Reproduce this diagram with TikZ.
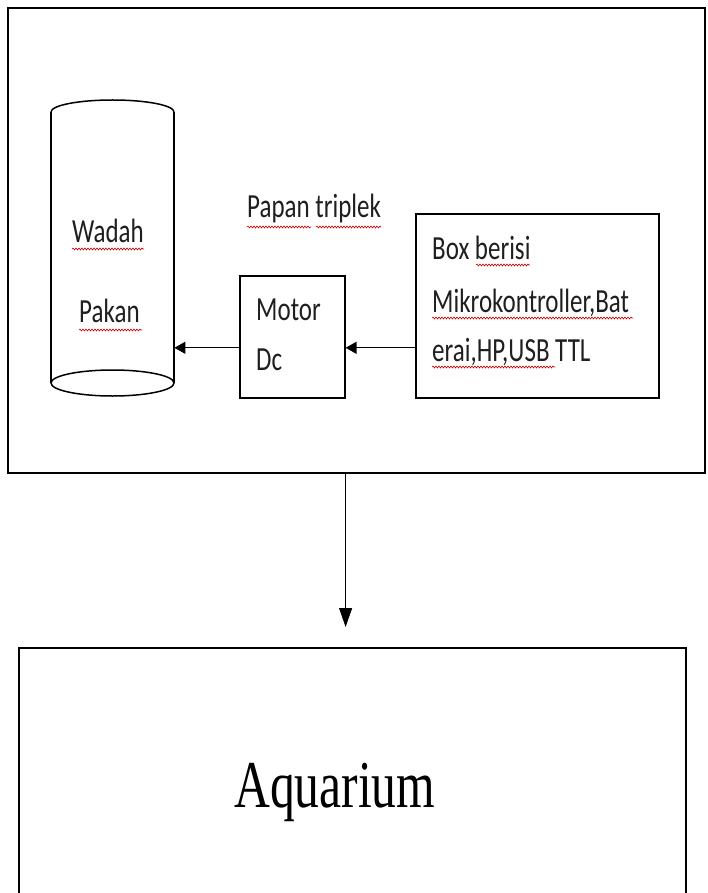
\documentclass[tikz,border=0pt]{standalone}
\usepackage{fontspec}
\usepackage{graphicx}
\newfontfamily\calfont{Carlito}
\newfontfamily\tmsfont{Liberation Serif}
\usetikzlibrary{arrows.meta,decorations.pathmorphing}
\newcommand\sx[1]{\scalebox{1}[1.35]{#1}}
\begin{document}
\begin{tikzpicture}[x=1pt,y=-1pt,
  box/.style={draw=black, line width=1.6pt, inner sep=0pt},
  lbl/.style={inner sep=0pt, font=\calfont\fontsize{25}{25}\selectfont, text=black!88},
  arr/.style={line width=1.3pt, -{Triangle[length=11pt,width=12pt]}},
  squig/.style={draw=red!80!black, line width=0.6pt, decorate, decoration={snake, amplitude=1pt, segment length=3pt}}]
\useasboundingbox (0,0) rectangle (707,893);
\clip (0,0) rectangle (707,893);
\fill[white] (0,0) rectangle (707,893);

% board
\node[box, anchor=north west, minimum width=697pt, minimum height=465pt] (board) at (7,7) {};

% cylinder (Wadah Pakan)
\node[inner sep=0pt, anchor=north west, minimum width=123pt, minimum height=296pt] (wadah) at (51,100) {};
\draw[line width=1.5pt] (51,112) arc[start angle=180, end angle=0, x radius=61.5pt, y radius=12pt];
\draw[line width=1.5pt] (51,112) -- (51,383) (174,112) -- (174,383);
\draw[line width=1.5pt] (112.5,383) ellipse [x radius=61.5pt, y radius=13pt];

% boxes
\node[box, anchor=north west, minimum width=105pt, minimum height=122pt] (motor) at (239,275) {};
\node[box, anchor=north west, minimum width=243pt, minimum height=184pt] (ctrl) at (415,213) {};
\node[box, anchor=north west, minimum width=667pt, minimum height=280pt] (aq) at (18,647) {};

% texts
\node[lbl, anchor=base west] (twadah) at (72,243) {\sx{Wadah}};
\node[lbl, anchor=base west] (tpakan) at (79,322) {\sx{Pakan}};
\node[lbl, anchor=base west] (tpapan) at (247,218) {\sx{Papan triplek}};
\node[lbl, anchor=base west] (tmotor) at (256,320) {\sx{Motor}};
\node[lbl, anchor=base west] (tdc) at (256,370) {\sx{Dc}};
\node[lbl, anchor=base west] (tbox1) at (432,259) {\sx{Box berisi}};
\node[lbl, anchor=base west] (tbox2) at (432,312) {\sx{Mikrokontroller,Bat}};
\node[lbl, anchor=base west] (tbox3) at (432,361) {\sx{erai,HP,USB TTL}};
\node[inner sep=0pt, anchor=base west, font=\tmsfont\fontsize{49.6}{50}\selectfont] (taq) at (234,807) {\sx{Aquarium}};

% spell-check underlines
\draw[squig] (72,249) -- (144,249);
\draw[squig] (79,330) -- (142,330);
\draw[squig] (247,227) -- (311,227);
\draw[squig] (316,227) -- (381,227);
\draw[squig] (476,265) -- (530,265);
\draw[squig] (432,318) -- (633,318);
\draw[squig] (432,367) -- (555,367);

% connectors
\draw[arr] ([yshift=-11pt]motor.west) -- ([yshift=-11pt]motor.west -| wadah.east);
\draw[arr] ([yshift=-42pt]ctrl.west) -- ([yshift=-42pt]ctrl.west -| motor.east);
\draw[line width=1pt, -{Triangle[length=19pt,width=13pt]}, shorten >=20pt] (board.south -| motor.east) -- (aq.north -| motor.east);
\end{tikzpicture}
\end{document}
